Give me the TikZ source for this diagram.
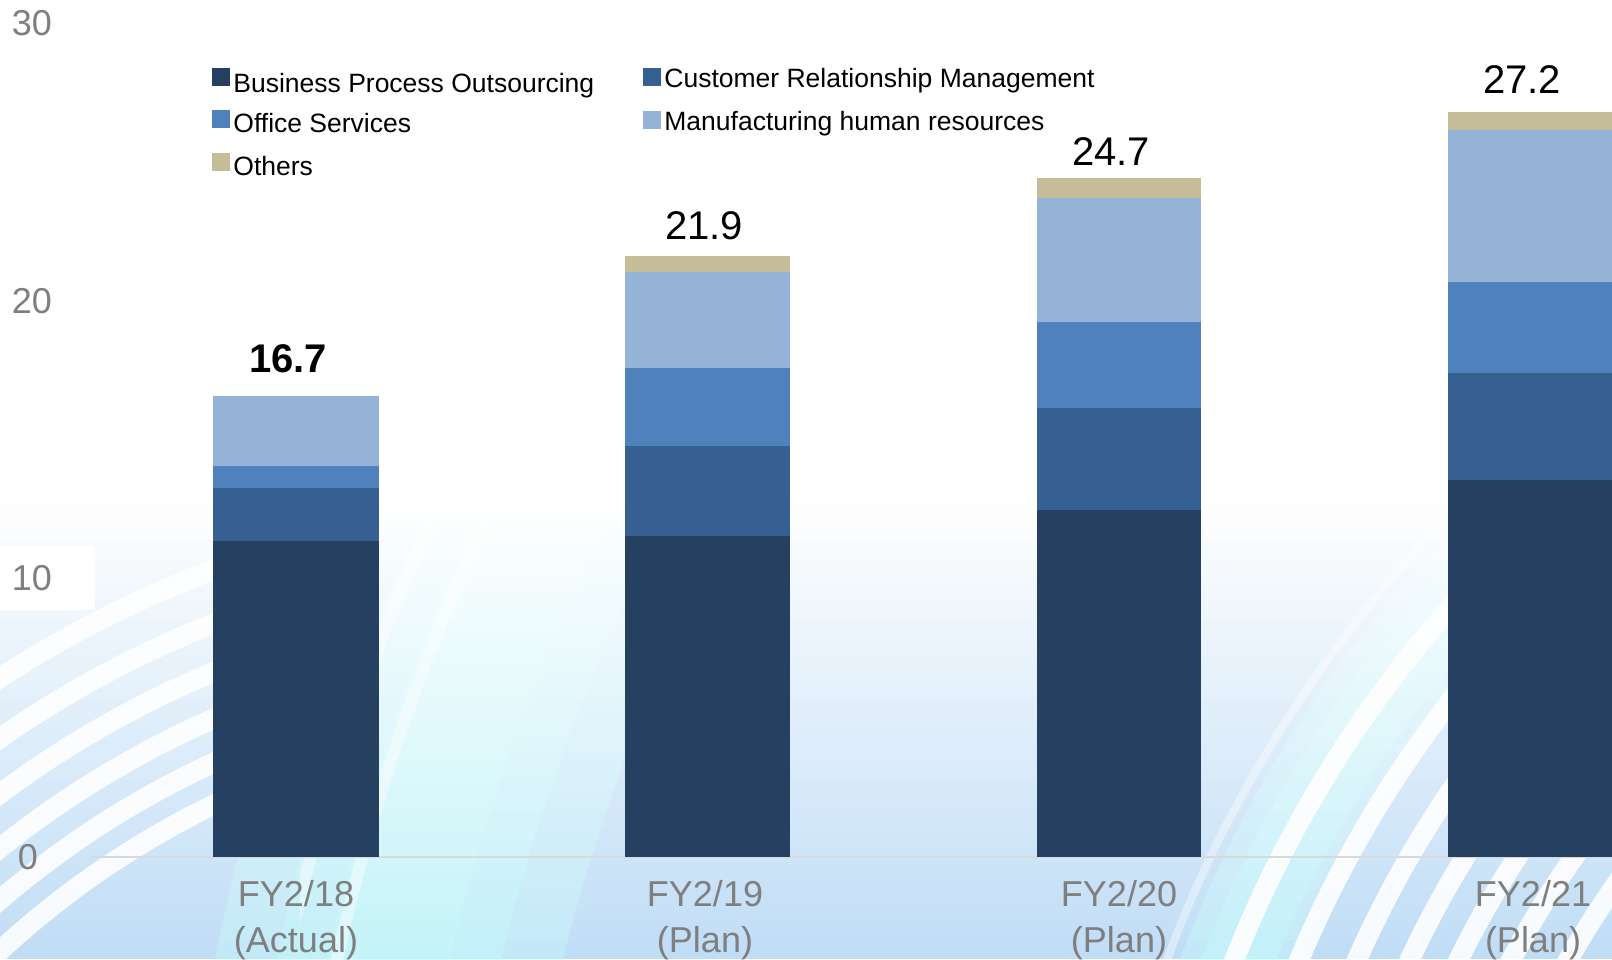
\documentclass[tikz,border=0pt]{standalone}
\usepackage{fontspec}
\setmainfont{Liberation Sans}
\definecolor{bpo}{HTML}{264061}
\definecolor{crm}{HTML}{376092}
\definecolor{ofs}{HTML}{4F81BD}
\definecolor{mfg}{HTML}{95B3D7}
\definecolor{oth}{HTML}{C4BD97}
\definecolor{axgray}{HTML}{7F7F7F}
\definecolor{axline}{HTML}{D9D9D9}
\definecolor{bgblue}{HTML}{C0DDF6}
\definecolor{glow}{HTML}{C6FBFB}
\begin{document}
\begin{tikzpicture}[x=0.5pt,y=-0.5pt,
  wband/.style={draw=white, line width=10pt, opacity=0.9},
  glowband/.style={draw=glow, opacity=0.4},
  legtxt/.style={font=\fontsize{13.25pt}{16pt}\selectfont, anchor=base west, inner sep=0pt},
  legbox/.style={anchor=north west, minimum width=9pt, minimum height=9pt, inner sep=0pt, outer sep=0pt},
  valtxt/.style={font=\fontsize{20pt}{24pt}\selectfont, inner sep=0pt},
  ticktxt/.style={font=\fontsize{18pt}{21pt}\selectfont, text=axgray, inner sep=0pt},
  cattxt/.style={font=\fontsize{18pt}{23pt}\selectfont, text=axgray, inner sep=0pt, align=center, anchor=north},
]
\useasboundingbox (0,0) rectangle (1612,959);
% ---------- background ----------
\begin{scope}
  \clip (0,0) rectangle (1612,959);
  \fill[bgblue] (0,0) rectangle (1612,959);
  % cyan glows
  \draw[glowband, line width=170pt] (2350,1400) circle (2010);
  \draw[glowband, line width=110pt] (2350,1400) circle (2010);
  \draw[glowband, line width=60pt] (2350,1400) circle (2010);
  \draw[glowband, line width=55pt] (2350,1400) circle (1195);
  \draw[glowband, line width=35pt] (2350,1400) circle (1195);
  % left family of white arcs
  \begin{scope}
    \clip (0,0) rectangle (300,959);
    \foreach \r in {1100,1050,1005,962,922,884}
      \draw[wband] (600,1600) circle (\r);
  \end{scope}
  % faint arcs between the first two bars
  \begin{scope}
    \clip (300,0) rectangle (700,959);
    \foreach \r in {2060,2110}
      \draw[wband, line width=6pt, opacity=0.45] (2350,1400) circle (\r);
  \end{scope}
  % right family of white arcs
  \foreach \r in {1199,1139,1086,1038,994,947,897}
    \draw[wband] (2350,1400) circle (\r);
  \draw[wband, line width=4pt, opacity=0.4] (2350,1400) circle (1262);
  % white fade from the top
  \fill[white] (0,0) rectangle (1612,500);
  \foreach \i [evaluate=\i as \op using {1-(\i+0.5)/46}] in {0,...,45}
    \fill[white, fill opacity=\op] (0,{500+10*\i}) rectangle (1612,{510+10*\i});
  \fill[white] (0,545) rectangle (95,610);
\end{scope}
% ---------- axis ----------
\coordinate (axL) at (91,857);
\coordinate (axR) at (1612,857);
\draw[axline, line width=1pt] (axL) -- (axR);
% ---------- bars ----------
% FY2/18
\fill[bpo] (213,857) rectangle (379,540.7);
\fill[crm] (213,540.7) rectangle (379,488.3);
\fill[ofs] (213,488.3) rectangle (379,466);
\fill[mfg] (213,466) rectangle (379,396);
% FY2/19
\fill[bpo] (625,857) rectangle (790,536);
\fill[crm] (625,536) rectangle (790,446);
\fill[ofs] (625,446) rectangle (790,368);
\fill[mfg] (625,368) rectangle (790,272);
\fill[oth] (625,272) rectangle (790,256);
% FY2/20
\fill[bpo] (1037,857) rectangle (1201,510);
\fill[crm] (1037,510) rectangle (1201,408);
\fill[ofs] (1037,408) rectangle (1201,322);
\fill[mfg] (1037,322) rectangle (1201,197.7);
\fill[oth] (1037,197.7) rectangle (1201,178.3);
% FY2/21
\fill[bpo] (1448,857) rectangle (1614,480);
\fill[crm] (1448,480) rectangle (1614,372.7);
\fill[ofs] (1448,372.7) rectangle (1614,282.3);
\fill[mfg] (1448,282.3) rectangle (1614,130);
\fill[oth] (1448,130) rectangle (1614,111.7);
% ---------- value labels ----------
\node[valtxt, font=\fontsize{20pt}{24pt}\selectfont\bfseries] (v1) at (288,359) {16.7};
\node[valtxt] (v2) at (704,226) {21.9};
\node[valtxt] (v3) at (1111,152) {24.7};
\node[valtxt] (v4) at (1522,80) {27.2};
% ---------- tick labels ----------
\node[ticktxt] (t0) at (28,857) {0};
\node[ticktxt] (t10) at (32,578.5) {10};
\node[ticktxt] (t20) at (32,301) {20};
\node[ticktxt] (t30) at (32,23) {30};
% ---------- category labels ----------
\node[cattxt] (c1) at (296,880) {FY2/18\\(Actual)};
\node[cattxt] (c2) at (705,880) {FY2/19\\(Plan)};
\node[cattxt] (c3) at (1119,880) {FY2/20\\(Plan)};
\node[cattxt] (c4) at (1533,880) {FY2/21\\(Plan)};
% ---------- legend ----------
\node[legbox, fill=bpo] (k1) at (211.5,68) {};
\node[legtxt] (l1) at (233,92) {Business Process Outsourcing};
\node[legbox, fill=ofs] (k2) at (211.5,110) {};
\node[legtxt] (l2) at (233,132) {Office Services};
\node[legbox, fill=oth] (k3) at (211.5,153) {};
\node[legtxt] (l3) at (233,175) {Others};
\node[legbox, fill=crm] (k4) at (643,68) {};
\node[legtxt] (l4) at (664,87) {Customer Relationship Management};
\node[legbox, fill=mfg] (k5) at (643,111) {};
\node[legtxt] (l5) at (664,130) {Manufacturing human resources};
\end{tikzpicture}
\end{document}
